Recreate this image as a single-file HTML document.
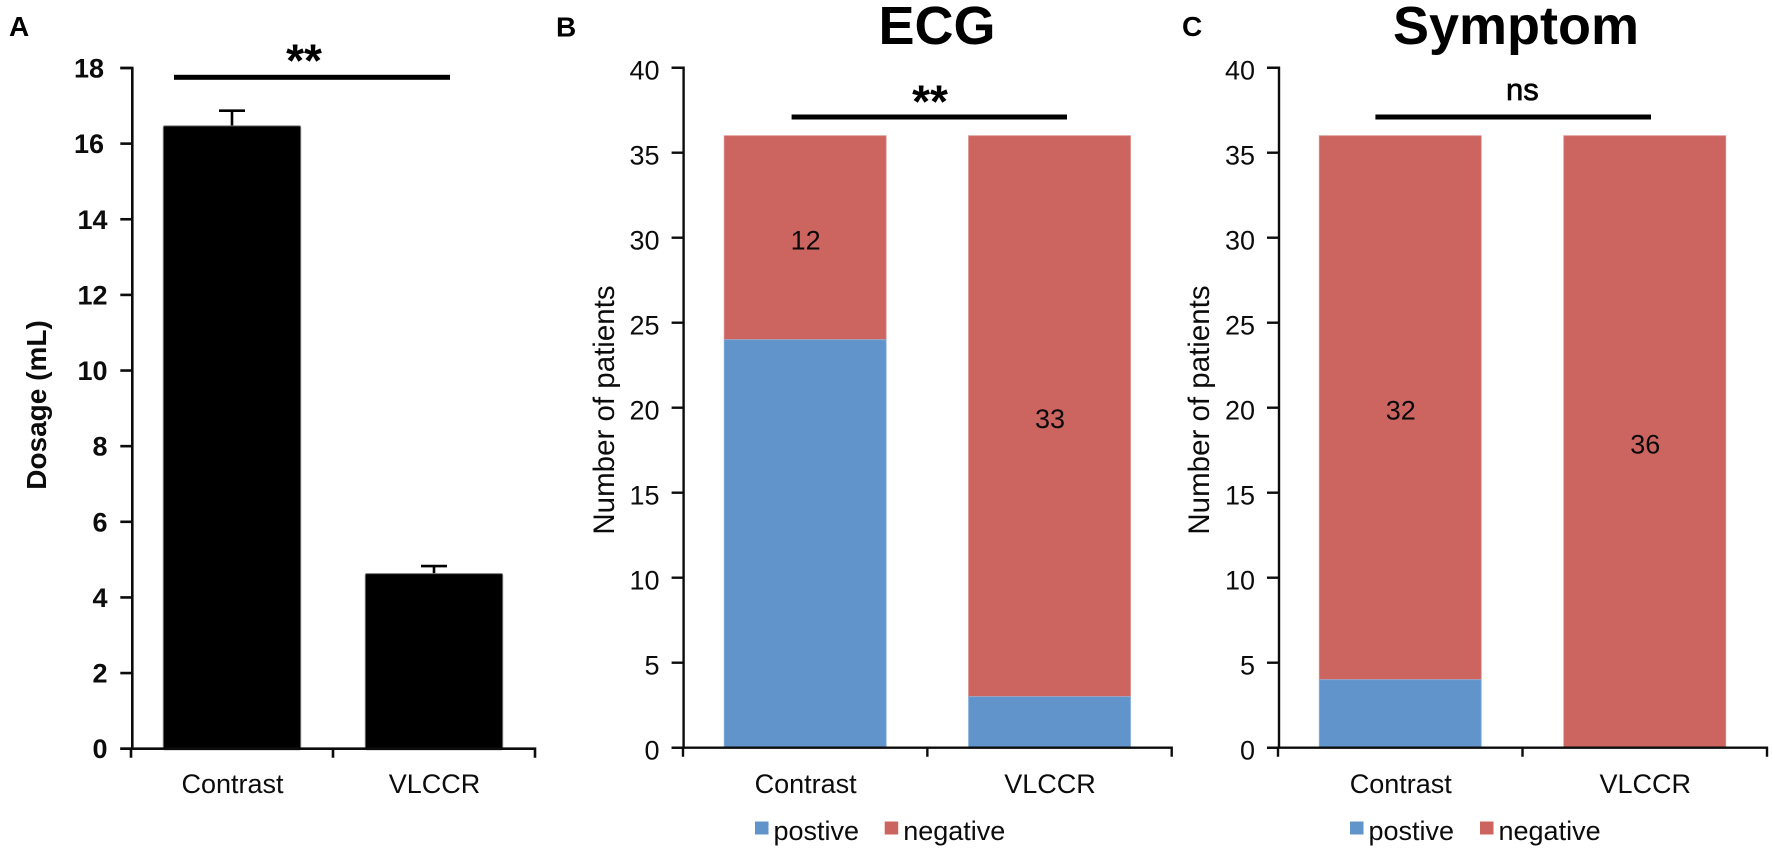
<!DOCTYPE html>
<html lang="en">
<head>
<meta charset="utf-8">
<title>Dosage, ECG and Symptom bar charts</title>
<style>
html,body{margin:0;padding:0;background:#fff;width:1772px;height:849px;overflow:hidden}
svg{display:block;font-family:"Liberation Sans",Arial,sans-serif}
</style>
</head>
<body>
<svg id="figure" xmlns="http://www.w3.org/2000/svg" width="1772" height="849" viewBox="0 0 1772 849"></svg>
<script>
// ---- data ----
const categories = ['Contrast', 'VLCCR'];
const legendLabels = ['postive', 'negative'];

const dosageTicks = [0, 2, 4, 6, 8, 10, 12, 14, 16, 18];
const dosageMeans = [16.47, 4.63];
const dosageErrors = [0.4, 0.2];

const patientTicks = [0, 5, 10, 15, 20, 25, 30, 35, 40];

const ecgPositive = [24, 3];
const ecgNegative = [12, 33];
const ecgPrinted = ['12', '33'];

const symptomPositive = [4, 0];
const symptomNegative = [32, 36];
const symptomPrinted = ['32', '36'];

// ---- helpers ----
const NS = 'http://www.w3.org/2000/svg';
const fig = document.getElementById('figure');
const BLUE = '#6094ca', RED = '#cc6460', INK = '#0c0c0c';

function mk(tag, attrs, parent, text) {
  const el = document.createElementNS(NS, tag);
  for (const k in attrs) el.setAttribute(k, attrs[k]);
  if (text !== undefined) el.textContent = text;
  (parent || fig).appendChild(el);
  return el;
}
function group(name, parent) {
  const g = mk('g', {}, parent);
  
  
  return g;
}
function linearY(y0, yTop, maxVal) {
  return v => y0 - (v / maxVal) * (y0 - yTop);
}
function bandX(left, right, n) {
  const band = (right - left) / n;
  return i => left + (i + 0.5) * band;
}

function drawAxes(g, o) {
  const sw = o.sw;
  const axisLine = mk('path', {
    d: 'M' + (o.axisX - 12) + ' ' + o.yTop + 'H' + o.axisX + 'V' + o.y0 +
       'M' + (o.axisX - 12) + ' ' + o.y0 + 'H' + o.right + 'V' + (o.y0 + 9) +
       'M' + o.left + ' ' + o.y0 + 'V' + (o.y0 + 9) +
       'M' + ((o.left + o.right) / 2) + ' ' + o.y0 + 'V' + (o.y0 + 9),
    fill: 'none', stroke: INK, 'stroke-width': sw
  }, g);
  
  

  o.ticks.forEach(t => {
    const y = o.yScale(t);
    const tick = mk('line', { x1: o.axisX - 12, x2: o.axisX, y1: y, y2: y, stroke: INK, 'stroke-width': sw }, g);
    
    
    const lab = mk('text', {
      x: o.labelRight(t), y: y + o.labelDy(t), 'text-anchor': 'end',
      'font-size': 27, 'font-weight': o.tickWeight, fill: INK
    }, g, String(t));
    
    
  });

  categories.forEach((c, i) => {
    const lab = mk('text', {
      x: o.xScale(i) + 0.5, y: 793, 'text-anchor': 'middle', 'font-size': 27, fill: INK
    }, g, c);
    
    
  });
}

function yTitle(g, text, x, y, size, weight) {
  const t = mk('text', {
    transform: 'translate(' + x + ' ' + y + ') rotate(-90)',
    'text-anchor': 'middle', 'font-size': size, 'font-weight': weight, fill: INK
  }, g, text);
  
  
}

function panelLetter(g, text, x, y) {
  const t = mk('text', { x: x, y: y, 'font-size': 28, 'font-weight': 'bold', fill: '#000' }, g, text);
  
  
}

function sigBar(g, x1, x2, y, label, labelX, labelY, isStars) {
  const b = mk('rect', { x: x1, y: y - 2.5, width: x2 - x1, height: 5, fill: '#000' }, g);
  
  
  const t = mk('text', {
    x: labelX, y: labelY, 'text-anchor': 'middle',
    'font-size': isStars ? 46 : 31, 'font-weight': isStars ? 'bold' : 'normal',
    fill: '#000', stroke: isStars ? 'none' : '#000', 'stroke-width': isStars ? 0 : 0.7
  }, g, label);
  
  
}

function stacked(g, o, positive, negative, printed, barW) {
  categories.forEach((c, i) => {
    const cx = o.xScale(i);
    const x = cx - barW / 2;
    const yPos = o.yScale(positive[i]);
    const yTot = o.yScale(positive[i] + negative[i]);
    const negRect = mk('rect', { x: x, y: yTot, width: barW, height: yPos - yTot, fill: RED, stroke: '#dd8f8b', 'stroke-width': 0.8 }, g);
    
    
    if (positive[i] > 0) {
      const posRect = mk('rect', { x: x, y: yPos, width: barW, height: o.y0 - yPos, fill: BLUE, stroke: '#8ab2dc', 'stroke-width': 0.8 }, g);
      
      
    }
    const mid = o.yScale(positive[i] + negative[i] / 2);
    const lab = mk('text', { x: cx + 0.5, y: mid + 12, 'text-anchor': 'middle', 'font-size': 27, fill: '#0a0a0a' }, g, printed[i]);
    
    
  });
}

function legend(g, x1, x2) {
  const xs = [x1, x2];
  const cols = [BLUE, RED];
  legendLabels.forEach((l, i) => {
    const sw = mk('rect', { x: xs[i], y: 821.5, width: 13.5, height: 13, fill: cols[i] }, g);
    
    
    const t = mk('text', { x: xs[i] + 18.5, y: 840, 'font-size': 27, fill: INK }, g, l);
    
    
  });
}

// ---- Panel A ----
(function () {
  const g = group('panel-a-dosage');
  const y0 = 748.7;
  const o = {
    axisX: 132.3, y0: y0, yTop: 68, left: 131, right: 535, sw: 2.6, ticks: dosageTicks,
    yScale: linearY(y0, 68, 18), xScale: bandX(131, 535, 2), tickWeight: 'bold',
    labelRight: t => (t >= 16 ? 104 : 107.5), labelDy: () => 9.5
  };
  panelLetter(g, 'A', 9, 36);
  const barW = 137.4;
  dosageMeans.forEach((m, i) => {
    const cx = o.xScale(i);
    const top = o.yScale(m);
    const capY = o.yScale(m + dosageErrors[i]);
    const err = mk('path', {
      d: 'M' + cx + ' ' + top + 'V' + capY + 'M' + (cx - 13) + ' ' + capY + 'H' + (cx + 13),
      fill: 'none', stroke: '#000', 'stroke-width': 2.6
    }, g);
    
    
    const bar = mk('rect', {
      x: cx - barW / 2, y: top, width: barW, height: y0 + 1 - top, rx: 1.5, fill: '#000', stroke: '#777', 'stroke-width': 1
    }, g);
    
    
  });
  drawAxes(g, o);
  yTitle(g, 'Dosage (mL)', 46, 405, 28, 'bold');
  sigBar(g, 174, 450, 77.3, '**', 304, 76.5, true);
})();

// ---- Panel B ----
(function () {
  const g = group('panel-b-ecg');
  const y0 = 747.7;
  const o = {
    axisX: 683.6, y0: y0, yTop: 67.7, left: 683, right: 1171.7, sw: 2.4, ticks: patientTicks,
    yScale: linearY(y0, 67.7, 40), xScale: bandX(683, 1171.7, 2), tickWeight: 'normal',
    labelRight: () => 659.5, labelDy: () => 12
  };
  panelLetter(g, 'B', 556, 36.5);
  const title = mk('text', { x: 937, y: 44, 'text-anchor': 'middle', 'font-size': 54, 'font-weight': 'bold', fill: '#000' }, g, 'ECG');
  
  
  stacked(g, o, ecgPositive, ecgNegative, ecgPrinted, 162);
  drawAxes(g, o);
  yTitle(g, 'Number of patients', 614, 410, 29.5, 'normal');
  sigBar(g, 791.6, 1067, 117, '**', 930, 117.5, true);
  legend(g, 755, 884.7);
})();

// ---- Panel C ----
(function () {
  const g = group('panel-c-symptom');
  const y0 = 747.7;
  const o = {
    axisX: 1279, y0: y0, yTop: 67.7, left: 1278, right: 1767, sw: 2.4, ticks: patientTicks,
    yScale: linearY(y0, 67.7, 40), xScale: bandX(1278, 1767, 2), tickWeight: 'normal',
    labelRight: () => 1255, labelDy: () => 12
  };
  panelLetter(g, 'C', 1182, 36);
  const title = mk('text', { x: 1516, y: 44, 'text-anchor': 'middle', 'font-size': 54, 'font-weight': 'bold', fill: '#000' }, g, 'Symptom');
  
  
  stacked(g, o, symptomPositive, symptomNegative, symptomPrinted, 162);
  drawAxes(g, o);
  yTitle(g, 'Number of patients', 1209, 410, 29.5, 'normal');
  sigBar(g, 1375.4, 1651, 117, 'ns', 1522.4, 100, false);
  legend(g, 1350, 1480);
})();
</script>
</body>
</html>
